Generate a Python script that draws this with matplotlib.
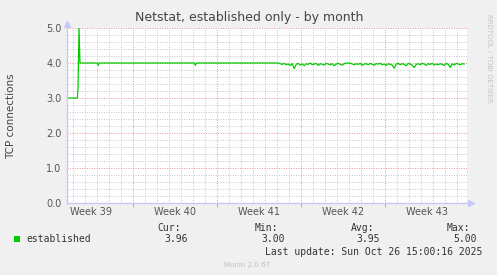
import numpy as np
import matplotlib
matplotlib.use('Agg')
import matplotlib.pyplot as plt
from matplotlib.patches import Rectangle

# days from the left edge of the graph
base_days = [0.0, 0.86, 0.92, 1.0, 1.08, 2.52, 2.6, 2.68, 10.62, 10.7, 10.78, 17.6]
base_vals = [3.0, 3.0, 3.3, 5.0, 4.0, 4.0, 3.93, 4.0, 4.0, 3.93, 4.0, 4.0]

noise_start = 17.6
noise_step = 1.0 / 6.0
noise_vals = [4.00, 3.98, 3.96, 3.99, 3.95, 3.97, 3.93, 3.98, 3.84, 3.96,
              3.99, 3.94, 3.97, 3.92, 3.98, 3.96, 4.00, 3.95, 3.97, 3.99,
              3.93, 3.98, 3.96, 3.94, 3.99, 3.97, 3.95, 3.98, 3.92, 3.97,
              3.99, 3.96, 3.94, 3.98, 4.00, 3.99, 4.00, 3.97, 3.95, 3.98,
              3.96, 3.99, 3.93, 3.97, 3.98, 3.95, 3.99, 3.96, 3.94, 3.98,
              3.97, 3.99, 3.95, 3.97, 3.93, 3.98, 3.96, 3.94, 3.85, 3.97,
              3.99, 3.95, 3.98, 3.96, 3.92, 3.99, 3.97, 3.94, 3.87, 3.96,
              3.98, 3.95, 3.99, 3.97, 3.93, 3.98, 3.96, 3.99, 3.94, 3.97,
              3.95, 3.98, 3.96, 3.93, 3.99, 3.96, 3.87, 3.98, 3.94, 3.99,
              3.97, 3.95, 3.98, 3.97]

week_labels = ['Week 39', 'Week 40', 'Week 41', 'Week 42', 'Week 43']
week_label_pos = [2.0, 9.0, 16.0, 23.0, 30.0]
week_starts = [5.5, 12.5, 19.5, 26.5]

legend_name = 'established'
stat_names = ['Cur:', 'Min:', 'Avg:', 'Max:']
stat_vals = ['3.96', '3.00', '3.95', '5.00']
last_update = 'Last update: Sun Oct 26 15:00:16 2025'

W, H = 497, 275
def fx(px):
    return px / W
def fy(py):
    return 1 - py / H

noise_days = noise_start + np.arange(len(noise_vals)) * noise_step
days = list(base_days) + list(noise_days[1:])
vals = list(base_vals) + list(noise_vals[1:])

fig = plt.figure(figsize=(W / 100, H / 100), dpi=100, facecolor='#f0f0f0')
ax = fig.add_axes([fx(67), fy(203), 400 / W, 175 / H])
ax.set_facecolor('white')
ax.set_xlim(0, 33.33)
ax.set_ylim(0, 5)

# grid
minor_col = '#c6c6c6'
major_col = '#e49494'
dots = (0, (1, 1.5))
for d in np.arange(0.5, 33.33, 1.0):
    if any(abs(d - w) < 0.01 for w in week_starts):
        continue
    ax.axvline(d, color=minor_col, lw=0.7, ls=dots, zorder=1)
for v in np.arange(0.2, 5.0, 0.2):
    if abs(v - round(v)) < 0.01:
        continue
    ax.axhline(v, color=minor_col, lw=0.7, ls=dots, zorder=1)
for w in week_starts:
    ax.axvline(w, color=major_col, lw=0.7, ls=dots, zorder=1)
for v in range(1, 6):
    ax.axhline(v, color=major_col, lw=0.7, ls=dots, zorder=1)

ax.plot(days, vals, color='#00cc00', lw=0.9, zorder=3)

for s in ax.spines.values():
    s.set_visible(False)

axis_col = '#c8c8f4'
ax.plot([0, 1.008], [0, 0], transform=ax.transAxes, color=axis_col, lw=1, clip_on=False, zorder=4)
ax.plot([0, 0], [0, 1.02], transform=ax.transAxes, color=axis_col, lw=1, clip_on=False, zorder=4)
ax.plot([1.01], [0], transform=ax.transAxes, marker='>', ms=4, color=axis_col, clip_on=False, zorder=4)
ax.plot([0], [1.025], transform=ax.transAxes, marker='^', ms=4, color=axis_col, clip_on=False, zorder=4)

ax.set_yticks(range(6))
ax.set_yticklabels(['%.1f' % v for v in range(6)])
ax.tick_params(axis='y', length=0, pad=4, labelsize=7, labelcolor='#555555')
ax.set_xticks(week_starts)
ax.set_xticklabels([])
ax.tick_params(axis='x', length=3, width=0.7, color=major_col, direction='out')
for lbl, p in zip(week_labels, week_label_pos):
    ax.text(p, -9 / 175, lbl, ha='center', va='center', fontsize=7, color='#555555',
            transform=ax.get_xaxis_transform())

fig.text(fx(249), fy(18), 'Netstat, established only - by month', ha='center', va='center',
         fontsize=9, color='#444444')
fig.text(fx(11), fy(116), 'TCP connections', rotation=90, ha='center', va='center',
         fontsize=7.5, color='#444444')
fig.text(fx(489), fy(58), 'RRDTOOL / TOBI OETIKER', rotation=270, ha='center', va='center',
         fontsize=5, color='#c4c4c4')

fig.patches.append(Rectangle((fx(14), fy(242)), 6 / W, 6 / H, transform=fig.transFigure,
                             facecolor='#00cc00', edgecolor='none'))
mono = 'DejaVu Sans Mono'
fig.text(fx(26), fy(239), legend_name, ha='left', va='center', fontsize=7, family=mono, color='#333333')
name_right = [181, 278, 374, 470]
val_right = [188, 285, 380, 477]
for n, v, nr, vr in zip(stat_names, stat_vals, name_right, val_right):
    fig.text(fx(nr), fy(228), n, ha='right', va='center', fontsize=7, family=mono, color='#333333')
    fig.text(fx(vr), fy(239), v, ha='right', va='center', fontsize=7, family=mono, color='#333333')
fig.text(fx(482), fy(252), last_update, ha='right', va='center', fontsize=7, family=mono, color='#333333')
fig.text(fx(247), fy(265), 'Munin 2.0.67', ha='center', va='center', fontsize=5, color='#c0c0c0')

fig.savefig('out.png', dpi=100, facecolor=fig.get_facecolor())
